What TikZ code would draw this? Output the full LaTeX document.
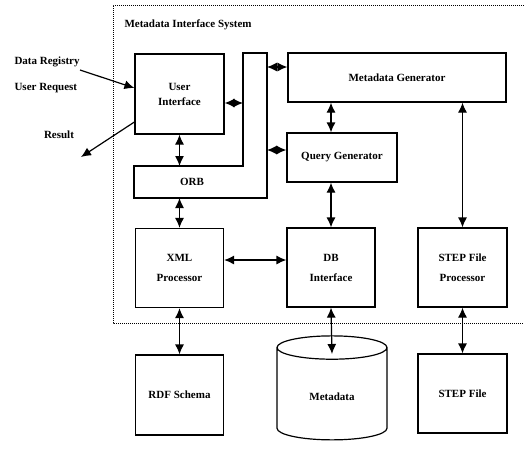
\documentclass[tikz,border=0pt]{standalone}
\usepackage{fontspec}
\setmainfont{Liberation Serif}
\usetikzlibrary{arrows.meta, positioning, shapes.geometric}
\tikzset{
  block/.style={rectangle, draw, line width=1.2pt, minimum width=88pt,
    minimum height=79pt, align=center, inner sep=0pt,
    font=\fontsize{11}{20}\selectfont\bfseries},
  wideblock/.style={block, minimum height=49pt},
  dbarrow/.style={{Latex[length=10pt,width=9pt]}-{Latex[length=10pt,width=9pt]}, line width=1.2pt},
  arrow/.style={-{Latex[length=10pt,width=9pt]}, line width=1.2pt},
  sysframe/.style={densely dotted, line width=1pt},
  lbl/.style={font=\fontsize{11}{14}\selectfont\bfseries}
}

\begin{document}
\begin{tikzpicture}[x=1pt, y=-1pt]
  \useasboundingbox (0,0) rectangle (524,451);
  % system boundary (open on the right)
  \draw[sysframe] (524,5) -- (113,5) -- (113,323) -- (524,323);
  \node[lbl, anchor=west] (systitle) at (121,25) {Metadata Interface System};

  % components
  \node[block, minimum width=89pt, minimum height=80pt,
    font=\fontsize{11}{15}\selectfont\bfseries] (ui) at (179.5,94) {User\\Interface};
  \node[wideblock, minimum width=218pt] (mg) at (397,77.5) {Metadata Generator};
  \node[wideblock, minimum width=110pt] (qg) at (342,157.5) {Query Generator};
  \node[block] (xml) at (179.5,268) {XML\\Processor};
  \node[block] (db) at (331,267.5) {DB\\Interface};
  \node[block, minimum width=89pt] (sfp) at (462.5,267.5) {STEP File\\Processor};
  \node[block, minimum height=80pt] (rdf) at (179.5,395) {RDF Schema};
  \node[block, minimum width=89pt] (sf) at (462.5,393.5) {STEP File};
  \node[cylinder, shape border rotate=90, draw, line width=1.2pt, lbl,
    minimum width=110pt, minimum height=104pt, aspect=0.45,
    outer sep=0pt] (meta) at (332,396) {\raisebox{-9pt}{Metadata}};

  % ORB, drawn as an L
  \draw[line width=1.2pt] (134,166) -- (243,166) -- (243,53) -- (267,53)
    -- (267,198) -- (134,198) -- cycle;
  \node[lbl] (orb) at (192,182) {ORB};
  \coordinate (orbtop) at (179.5,166);
  \coordinate (orbbot) at (179.5,198);
  \coordinate (orbin) at (243,103);
  \coordinate (orbmg) at (267,67);
  \coordinate (orbqg) at (267,150);

  % outside the system
  \node[lbl, anchor=west] (dreg) at (11,62) {Data Registry};
  \node[lbl, anchor=west] (ureq) at (11,88) {User Request};
  \node[lbl] (result) at (59,135) {Result};
  \coordinate (req) at (80,70);
  \coordinate (resend) at (81,157);

  % connectors
  \draw[arrow] (req) -- (ui.west |- 0,88);
  \draw[arrow] (ui.west |- 0,122) -- (resend);
  \draw[dbarrow] (ui.south) -- (orbtop);
  \draw[dbarrow] (ui.east |- orbin) -- (orbin);
  \draw[dbarrow] (orbmg) -- (mg.west |- orbmg);
  \draw[dbarrow] (orbqg) -- (qg.west |- orbqg);
  \draw[dbarrow] (orbbot) -- (xml.north);
  \draw[dbarrow] (mg.south -| db.north) -- (qg.north -| db.north);
  \draw[dbarrow] (qg.south -| db.north) -- (db.north);
  \draw[dbarrow] (mg.south -| sfp.north) -- (sfp.north);
  \draw[dbarrow] (xml.east |- 0,260) -- (db.west |- 0,260);
  \draw[dbarrow] (xml.south) -- (rdf.north);
  \draw[dbarrow] (db.south) -- (332,354);
  \draw[dbarrow] (sfp.south) -- (sf.north);
\end{tikzpicture}
\end{document}
